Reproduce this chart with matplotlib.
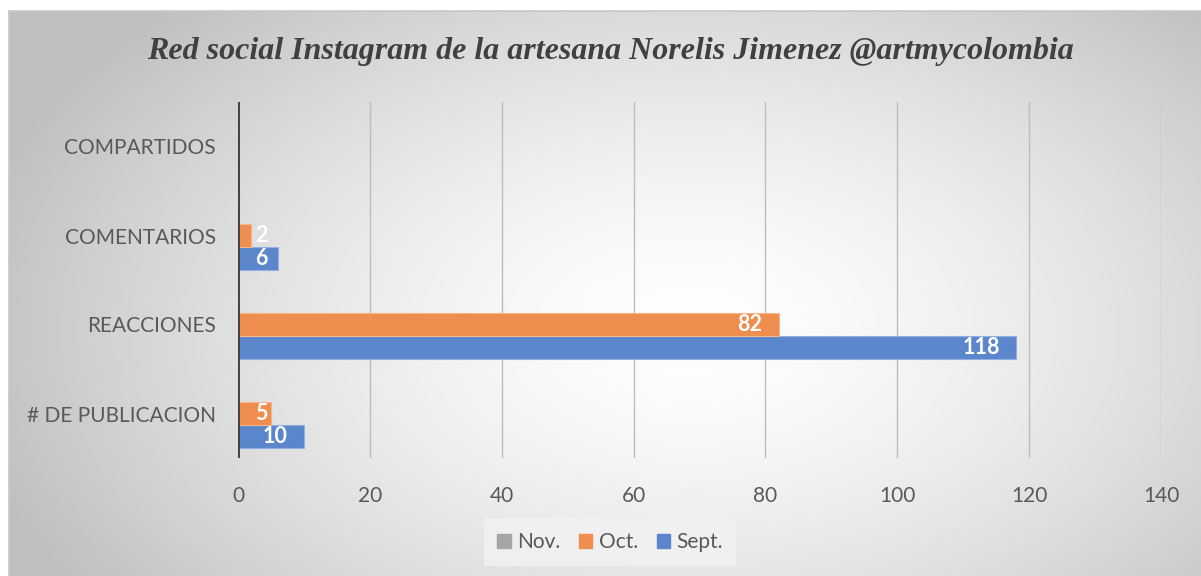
import numpy as np
import matplotlib
matplotlib.use("Agg")
import matplotlib.pyplot as plt
from matplotlib.patches import Rectangle

# ---- data ----
categories = ["# DE PUBLICACION", "REACCIONES", "COMENTARIOS", "COMPARTIDOS"]
sept = [10, 118, 6, np.nan]
octo = [5, 82, 2, np.nan]
nov = [np.nan, np.nan, np.nan, np.nan]
series_names = ["Sept.", "Oct.", "Nov."]
title = "Red social Instagram de la artesana Norelis Jimenez @artmycolombia"
xticks = [0, 20, 40, 60, 80, 100, 120, 140]

W, H = 1201, 576
fig = plt.figure(figsize=(W / 100, H / 100), dpi=100)

# background: white page + framed chart area with radial gradient
bg = fig.add_axes([0, 0, 1, 1], zorder=-10)
bg.set_xlim(0, W); bg.set_ylim(H, 0); bg.axis("off")
yy, xx = np.mgrid[0:H, 0:W]
cx, cy = 690, 330
r = np.sqrt(((xx - cx) / 740.0) ** 2 + ((yy - cy) / 460.0) ** 2)
val = 1.0 - 0.25 * np.clip(r, 0, 1) ** 1.5
img = np.dstack([val, val, val])
x0, y0 = 9, 11
img[:y0, :, :] = 1.0
img[:, :x0, :] = 1.0
bg.imshow(img, extent=[0, W, H, 0], aspect="auto", interpolation="bilinear")
bg.plot([x0, W], [y0, y0], color="#c8c8c8", lw=1.2)
bg.plot([x0, x0], [y0, H], color="#c8c8c8", lw=1.2)

# main axes
left, right, top, bottom = 238, 1161, 102, 458
ax = fig.add_axes([left / W, 1 - bottom / H, (right - left) / W, (bottom - top) / H])
ax.patch.set_alpha(0)
for s in ax.spines.values():
    s.set_visible(False)

y = np.arange(len(categories))
h = 0.258
col_sept = "#5B86CC"
col_oct = "#EF8D4E"
col_nov = "#A5A5A5"
ax.barh(y - h, sept, height=h, color=col_sept, edgecolor="#8fb0e0", lw=0.8, zorder=3)
ax.barh(y, octo, height=h, color=col_oct, edgecolor="#f5b48a", lw=0.8, zorder=3)
ax.barh(y + h, nov, height=h, color=col_nov, zorder=3)

ax.set_xlim(0, 140)
ax.set_ylim(-0.5, len(categories) - 0.5)
ax.set_xticks(xticks)
ax.set_xticklabels([str(t) for t in xticks])
ax.set_yticks(y)
ax.set_yticklabels(categories)
ax.tick_params(length=0, labelsize=15, labelcolor="#595959")
ax.tick_params(axis="x", pad=20)
ax.tick_params(axis="y", pad=16)
for lab in ax.get_xticklabels() + ax.get_yticklabels():
    lab.set_fontfamily("Lato")
ax.grid(axis="x", color="#bdbdbd", lw=1.0, zorder=0)
ax.set_axisbelow(True)
ax.axvline(0, color="#404040", lw=2.8, zorder=5)

# data labels (white bold, inside end)
texts = []
for vals, off in [(sept, -h), (octo, 0)]:
    for i, v in enumerate(vals):
        if np.isnan(v):
            continue
        t = ax.annotate(f"{v:g}", xy=(v, i + off), xytext=(-16 * 0.72, 0),
                        textcoords="offset points", ha="right", va="center",
                        color="white", fontsize=15.5, fontweight="bold",
                        family="Lato", zorder=6)
        texts.append(t)

fig.canvas.draw()
renderer = fig.canvas.get_renderer()
axbb = ax.get_window_extent(renderer)
for t in texts:
    bb = t.get_window_extent(renderer)
    minleft = axbb.x0 + 17
    if bb.x0 < minleft:
        shift = minleft - bb.x0
        ox, oy = t.xyann
        t.xyann = (ox + shift * 0.72, oy)

# title
fig.text(0.5 + 10 / W, 1 - 52 / H, title, ha="center", va="center",
         fontsize=23, fontweight="bold", fontstyle="italic",
         family="Liberation Serif", color="#404040")

# legend
handles = [Rectangle((0, 0), 1, 1, color=c) for c in (col_nov, col_oct, col_sept)]
leg = fig.legend(handles, ["Nov.", "Oct.", "Sept."], loc="center",
                 bbox_to_anchor=(610 / W, 1 - 542 / H), ncol=3, frameon=True,
                 prop={"family": "Lato", "size": 15}, handlelength=0.65,
                 handleheight=0.65, handletextpad=0.3, columnspacing=0.9,
                 borderpad=0.65, fancybox=False)
leg.get_frame().set_facecolor("#f2f2f2")
leg.get_frame().set_edgecolor("none")
for t in leg.get_texts():
    t.set_color("#595959")

fig.savefig("out.png", dpi=100)
